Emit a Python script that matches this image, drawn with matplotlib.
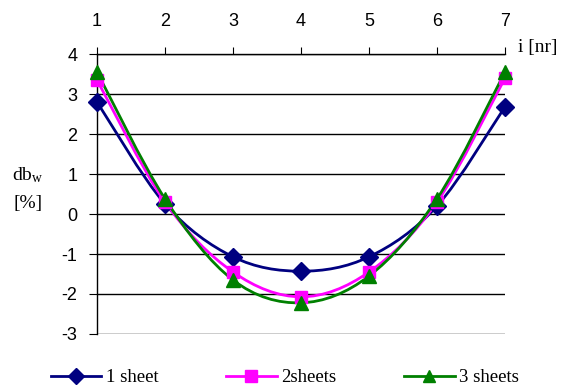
import numpy as np
import matplotlib.pyplot as plt
from matplotlib.path import Path
from matplotlib.patches import PathPatch
from matplotlib.lines import Line2D

plt.rcParams['axes.unicode_minus'] = False

# Relative deviation db_w per position i for 1, 2 and 3 sheets
positions = [1, 2, 3, 4, 5, 6, 7]
one_sheet = [2.8, 0.25, -1.07, -1.43, -1.07, 0.2, 2.68]
two_sheets = [3.35, 0.3, -1.45, -2.07, -1.45, 0.3, 3.4]
three_sheets = [3.55, 0.38, -1.65, -2.22, -1.55, 0.38, 3.55]
labels = ['1 sheet', '2sheets', '3 sheets']
colors = ['#000080', '#FF00FF', '#008000']
markers = ['D', 's', '^']
msizes = [9, 9, 10]

serif = 'Liberation Serif'
sans = 'Liberation Sans'


def smooth_path(x, y):
    # Bezier segments through every point (Catmull-Rom style control points)
    pts = np.column_stack([x, y]).astype(float)
    ext = np.vstack([pts[0], pts, pts[-1]])
    verts = [pts[0]]
    codes = [Path.MOVETO]
    for k in range(len(pts) - 1):
        p0, p1, p2, p3 = ext[k], ext[k + 1], ext[k + 2], ext[k + 3]
        c1 = p1 + (p2 - p0) / 6.0
        c2 = p2 - (p3 - p1) / 6.0
        verts += [c1, c2, p2]
        codes += [Path.CURVE4] * 3
    return Path(verts, codes)


fig = plt.figure(figsize=(5.61, 3.90), dpi=100)
ax = fig.add_axes([0.1729, 0.1436, 0.7273, 0.7179])

for ys, c, m, ms in zip([one_sheet, two_sheets, three_sheets], colors, markers, msizes):
    ax.add_patch(PathPatch(smooth_path(positions, ys), facecolor='none',
                           edgecolor=c, lw=2, zorder=3))
    ax.plot(positions, ys, ls='none', marker=m, ms=ms, color=c,
            markeredgecolor=c, zorder=4, clip_on=False)

ax.set_xlim(1, 7)
ax.set_ylim(-3, 4)
ax.set_yticks(range(-3, 5))
ax.set_xticks(positions)
ax.xaxis.tick_top()
ax.yaxis.grid(True, color='black', lw=1)
ax.set_axisbelow(True)
for s in ['right', 'bottom']:
    ax.spines[s].set_visible(False)
ax.spines['top'].set_linewidth(1)
ax.spines['left'].set_linewidth(1)
ax.tick_params(axis='x', direction='out', length=5, pad=12, labelsize=13)
ax.tick_params(axis='y', direction='out', length=6, pad=8, labelsize=13)
for t in ax.get_xticklabels() + ax.get_yticklabels():
    t.set_fontfamily(sans)

fig.text(0.923, 0.877, 'i [nr]', fontsize=14, family=serif, ha='left', va='center')
fig.text(0.05, 0.55, r'db$_\mathregular{w}$', fontsize=14, family=serif,
         ha='center', va='center', math_fontfamily='stix')
fig.text(0.05, 0.477, '[%]', fontsize=14, family=serif, ha='center', va='center')

handles = [Line2D([], [], color=c, lw=2, marker=m, ms=ms - 1)
           for c, m, ms in zip(colors, markers, msizes)]
fig.legend(handles, labels, loc='center', bbox_to_anchor=(0.508, 0.031), ncol=3,
           frameon=False, prop={'family': serif, 'size': 13.5},
           handlelength=2.7, columnspacing=3.6, handletextpad=0.25,
           borderpad=0, borderaxespad=0)

fig.savefig('out.png', dpi=100)
